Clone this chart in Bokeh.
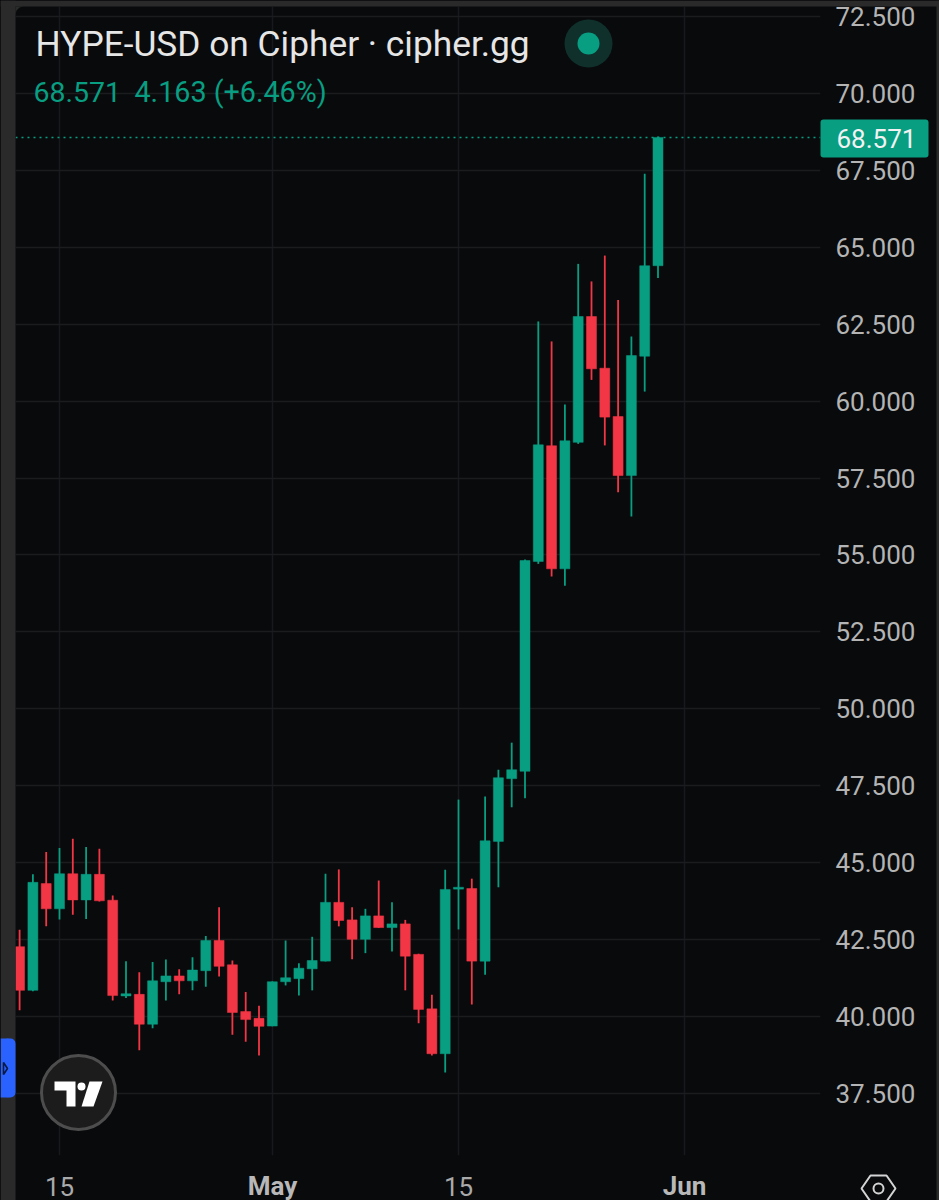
import pandas as pd
from bokeh.embed import file_html
from bokeh.models import (BoxAnnotation, ColumnDataSource, FixedTicker, Label,
                          NumeralTickFormatter, PolyAnnotation, Range1d, Span)
from bokeh.plotting import figure
from bokeh.resources import INLINE

start_date = "2025-04-12"
opens = [42.27, 40.85, 44.32, 43.50, 44.64, 43.79, 44.62, 43.78, 40.67, 40.72, 39.75, 41.13, 41.32, 41.16, 41.49, 42.47, 41.68, 40.16, 39.94,
         39.69, 41.13, 41.23, 41.55, 41.80, 43.71, 43.14, 42.51, 43.27, 42.89, 43.01, 42.02, 40.25, 38.79, 44.14, 44.16, 41.80, 45.69, 47.73, 47.97,
         54.79, 58.55, 54.55, 58.66, 62.75, 61.07, 59.50, 57.58, 61.46, 64.40]
closes = [40.85, 44.36, 43.50, 44.64, 43.79, 44.62, 43.76, 40.68, 40.74, 39.75, 41.16, 41.32, 41.16, 41.51, 42.47, 41.63, 40.13, 39.90, 39.68,
          41.13, 41.26, 41.57, 41.82, 43.71, 43.12, 42.51, 43.27, 42.89, 43.01, 41.96, 40.23, 38.79, 44.13, 44.20, 41.80, 45.71, 47.76, 48.02, 54.82,
          58.58, 54.55, 58.71, 62.75, 61.05, 59.48, 57.58, 61.48, 64.40, 68.571]
highs = [42.82, 44.62, 45.35, 45.48, 45.78, 45.51, 45.45, 43.93, 41.80, 41.44, 41.77, 41.85, 41.54, 41.93, 42.62, 43.55, 41.82, 40.80, 40.35,
         41.14, 42.47, 41.73, 42.59, 44.64, 44.78, 43.55, 43.50, 44.42, 43.71, 43.14, 42.04, 40.71, 44.77, 47.05, 44.48, 47.15, 48.02, 48.90, 54.85,
         62.59, 61.94, 59.89, 64.46, 63.89, 64.73, 63.29, 62.10, 67.39, 68.60]
lows = [40.20, 40.82, 42.93, 43.15, 43.31, 43.17, 43.74, 40.52, 40.60, 38.90, 39.62, 40.52, 40.72, 40.85, 40.97, 41.30, 39.41, 39.18, 38.73,
        39.68, 41.01, 40.68, 40.85, 41.79, 42.93, 41.86, 42.06, 42.88, 42.11, 40.85, 39.78, 38.73, 38.18, 42.83, 40.39, 41.36, 44.20, 46.80, 47.09,
        54.71, 54.30, 54.00, 58.61, 60.69, 58.56, 57.04, 56.25, 60.31, 64.00]
price_ticks = [37.5, 40.0, 42.5, 45.0, 47.5, 50.0, 52.5, 55.0, 57.5, 60.0, 62.5, 65.0, 67.5, 70.0, 72.5]
last_price = 68.571
title_text = "HYPE-USD on Cipher · cipher.gg"
price_text = "68.571"
change_text = "4.163 (+6.46%)"

GREEN, RED, BG, OUTER = "#089e82", "#f23645", "#090a0c", "#2a2a2a"
FONT = "Roboto"
DAY = 86400000

dates = pd.date_range(start_date, periods=len(opens), freq="D")
colors = [GREEN if c >= o else RED for o, c in zip(opens, closes)]
src = ColumnDataSource(dict(x=dates, o=opens, c=closes, h=highs, l=lows, color=colors))


def ms(s):
    return pd.Timestamp(s).value / 1e6


x0 = ms("2025-04-15")
px_per_day = 13.3
p = figure(width=939, height=1200, frame_width=805, frame_height=1149,
           x_axis_type="datetime", y_axis_location="right",
           x_range=Range1d(x0 - 44 / px_per_day * DAY, x0 + 761 / px_per_day * DAY),
           y_range=Range1d(35.483, 72.825),
           output_backend="svg", toolbar_location=None,
           background_fill_color=BG, border_fill_color=BG,
           min_border_left=15, min_border_top=6, min_border_right=119, min_border_bottom=45)
p.outline_line_color = None

tick_dates = ["2025-04-15", "2025-05-01", "2025-05-15", "2025-06-01"]
tick_ms = [ms(d) for d in tick_dates]
xa = p.xaxis[0]
xa.ticker = FixedTicker(ticks=tick_ms)
xa.major_label_overrides = {tick_ms[0]: "15", tick_ms[1]: " ", tick_ms[2]: "15", tick_ms[3]: " "}
xa.major_label_text_font = FONT
xa.major_label_text_font_size = "26px"
xa.major_label_text_color = "#a9a9a9"
xa.major_label_standoff = 10
ya = p.yaxis[0]
ya.ticker = FixedTicker(ticks=price_ticks)
ya.formatter = NumeralTickFormatter(format="0.000")
ya.major_label_text_font = FONT
ya.major_label_text_font_size = "26px"
ya.major_label_text_color = "#b4b4b4"
ya.major_label_standoff = 9
for a in (xa, ya):
    a.axis_line_color = None
    a.major_tick_line_color = None
    a.minor_tick_line_color = None
p.xgrid.grid_line_color = "#18191c"
p.ygrid.grid_line_color = "#1b1c1e"
p.xgrid.grid_line_width = 1.5
p.ygrid.grid_line_width = 1.5

p.add_layout(Span(location=last_price, dimension="width", line_color=GREEN, line_dash="2 4", line_width=1.5))
p.segment("x", "h", "x", "l", source=src, color="color", line_width=1.8)
p.vbar("x", width=0.75 * DAY, bottom="o", top="c", source=src, fill_color="color", line_color="color", line_width=0.5)

# transparent full-canvas overlay for the application chrome (its frame is the whole canvas)
c = figure(width=939, height=1200, frame_width=939, frame_height=1200,
           x_range=Range1d(0, 939), y_range=Range1d(1200, 0),
           x_axis_type=None, y_axis_type=None, output_backend="svg", toolbar_location=None,
           min_border=0, background_fill_alpha=0, border_fill_alpha=0)
c.outline_line_color = None
c.grid.visible = False
c.styles = {"position": "absolute", "left": "0px", "top": "0px"}


def box(l, r, t, b, fill, radius=0):
    c.add_layout(BoxAnnotation(left=l, right=r, top=t, bottom=b, left_units="canvas", right_units="canvas",
                               top_units="canvas", bottom_units="canvas", fill_color=fill, fill_alpha=1,
                               line_color=None, border_radius=radius))


def text(x, y, s, size, color, style="normal", align="left"):
    c.add_layout(Label(x=x, y=y, x_units="canvas", y_units="canvas", text=s, text_font=FONT,
                       text_font_size=f"{size}px", text_color=color, text_font_style=style,
                       text_baseline="middle", text_align=align))


def disc(cx, cy, r, fill, line=None, lw=0):
    c.add_layout(BoxAnnotation(left=cx - r, right=cx + r, top=cy - r, bottom=cy + r, left_units="canvas", right_units="canvas",
                               top_units="canvas", bottom_units="canvas", fill_color=fill, fill_alpha=1,
                               line_color=line, line_width=lw, line_alpha=1, border_radius=int(round(r))))


def poly(xs, ys, fill=None, line=None, lw=0):
    c.add_layout(PolyAnnotation(xs=xs, ys=ys, xs_units="canvas", ys_units="canvas",
                                fill_color=fill, fill_alpha=1 if fill else 0,
                                line_color=line, line_width=lw, line_alpha=1 if line else 0))


# surrounding grey page strips and rounded pane corner (overlay data units are canvas pixels)
c.quad(left=[0, 0, 936], right=[15, 939, 939], top=[0, 0, 0], bottom=[1200, 6, 1200],
       fill_color=OUTER, line_color=None)
poly([15, 23, 19, 16, 15], [6, 6, 7, 10, 14], OUTER)

text(35, 43, title_text, 35.3, "#e6e6e6")
text(33, 91, price_text, 28.5, GREEN)
text(134, 91, change_text, 28.7, GREEN)
disc(588, 43, 24, "#10302c")
disc(588, 43, 11, GREEN)

# price badge
box(820, 928, 119, 157, GREEN, 3)
text(836, 138, price_text, 26, "#f2f2f2")

# bold time labels
text(272, 1185, "May", 26, "#b8b8b8", "bold", "center")
text(684, 1185, "Jun", 26, "#b8b8b8", "bold", "center")

# TradingView badge
disc(78, 1092, 37, "#1c1c1c", "#4d4d4d", 3)
poly([54, 75, 75, 66, 66, 54], [1081, 1081, 1106, 1106, 1090, 1090], "#ffffff")
poly([89, 102, 93, 81], [1081, 1081, 1106, 1106], "#ffffff")
disc(81, 1086, 4, "#ffffff")

# left blue tab
c.quad(left=[0], right=[8], top=[1038], bottom=[1097], fill_color="#2962ff", line_color=None)
box(3, 15, 1038, 1097, "#2962ff", 5)
poly([3, 7, 3], [1062, 1068, 1074], None, "#0c1a40", 1.6)

# settings hexagon
poly([870, 886, 895, 886, 870, 861], [1175, 1175, 1188, 1201, 1201, 1188], None, "#d4d4d4", 2)
disc(878, 1188, 5, BG, "#d4d4d4", 2)

html = file_html([p, c], INLINE)
html = html.replace("<head>", "<head><style>html,body{margin:0;padding:0;overflow:hidden;background:#090a0c}</style>", 1)
open("out.html", "w").write(html)
